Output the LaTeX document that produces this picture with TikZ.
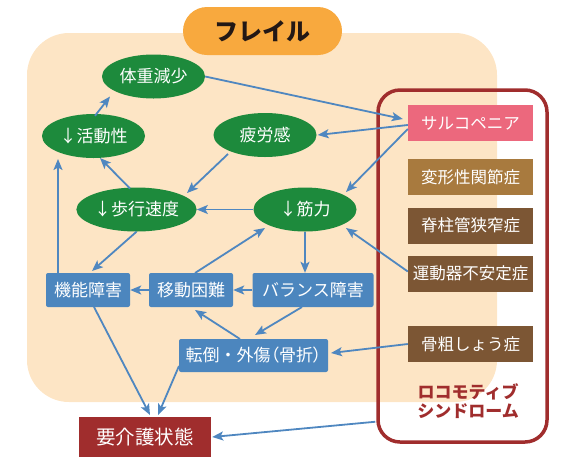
\documentclass[tikz,border=0pt]{standalone}
\usepackage{fontspec}
\setmainfont{Noto Sans CJK JP}
\newfontfamily\jpp[RawFeature=+palt]{Noto Sans CJK JP}
\usetikzlibrary{arrows.meta,calc,shapes.geometric}
\definecolor{beige}{RGB}{253,229,197}
\definecolor{frailorange}{RGB}{248,169,62}
\definecolor{egreen}{RGB}{29,138,60}
\definecolor{bblue}{RGB}{76,134,190}
\definecolor{arrblue}{RGB}{79,135,192}
\definecolor{spink}{RGB}{236,104,125}
\definecolor{lbrown}{RGB}{168,122,62}
\definecolor{dbrown}{RGB}{124,86,52}
\definecolor{dred}{RGB}{160,45,45}
\definecolor{inkblack}{RGB}{35,24,21}
\begin{document}
\begin{tikzpicture}[x=1pt,y=-1pt,
  ell/.style={ellipse, fill=egreen, text=white, minimum width=103pt, minimum height=44pt, inner sep=0pt, font=\fontsize{17}{17}\selectfont},
  bbox/.style={rectangle, rounded corners=2pt, fill=bblue, text=white, minimum height=34pt, inner sep=0pt, font=\fontsize{17}{17}\selectfont},
  lbox/.style={rectangle, text=white, minimum width=125pt, minimum height=36pt, inner sep=0pt, font=\fontsize{16.5}{16.5}\selectfont},
  arr/.style={draw=arrblue, line width=1.8pt, -{Stealth[length=11pt,width=9pt,inset=2.5pt]}}
]
\useasboundingbox (0,0) rectangle (564,467);
% background
\fill[beige, rounded corners=42pt] (27,33) rectangle (497,402);
\node[fill=frailorange, rounded corners=24pt, minimum width=159pt, minimum height=48pt, inner sep=0pt, text=inkblack, font=\fontsize{24}{24}\selectfont\bfseries] (frail) at (262.5,31) {フレイル};
% locomo frame
\node[draw=dred, line width=3.5pt, rounded corners=22pt, minimum width=169pt, minimum height=352pt, inner sep=0pt] (loco) at (462.5,266) {};
% ellipses
\node[ell] (taiju) at (153.5,76.5) {体重減少};
\node[ell] (katsudo) at (93.5,136) {↓活動性};
\node[ell] (hirou) at (265,135) {疲労感};
\node[ell] (hokou) at (136.5,209.5) {↓歩行速度};
\node[ell] (kinryoku) at (305,209.5) {↓筋力};
% blue boxes
\node[bbox, minimum width=84pt] (kinou) at (88,290) {機能障害};
\node[bbox, minimum width=84pt] (idou) at (191,290) {移動困難};
\node[bbox, minimum width=121pt] (balance) at (313,290) {バランス障害};
\node[bbox, minimum width=149pt, minimum height=33pt] (tento) at (253.5,355.5) {転倒・外傷{\jpp（骨折）}};
% care box
\node[rectangle, fill=dred, text=white, minimum width=132pt, minimum height=40pt, inner sep=0pt, font=\fontsize{19.5}{19.5}\selectfont] (yokaigo) at (145,437) {要介護状態};
% locomo boxes
\node[lbox, fill=spink] (sarco) at (470.5,123) {サルコペニア};
\node[lbox, fill=lbrown] (henkei) at (470.5,177) {変形性関節症};
\node[lbox, fill=dbrown] (sekichu) at (470.5,225.5) {脊柱管狭窄症};
\node[lbox, fill=dbrown] (undou) at (470.5,273.5) {運動器不安定症};
\node[lbox, fill=dbrown] (kotsu) at (470.5,344) {骨粗しょう症};
\node[text=dred, align=center, inner sep=0pt, font=\fontsize{17}{19.5}\selectfont\bfseries] (locolabel) at (468,401) {ロコモティブ\\シンドローム};
% arrows
\draw[arr] ($(katsudo.north)+(1.5,2)$) -- ($(taiju.center)+(-43.5,20)$);
\draw[arr] (taiju.east) -- ($(sarco.west)+(-5,-4)$);
\draw[arr] ($(sarco.west)+(0,2)$) -- ($(hirou.east)+(1,0)$);
\draw[arr] ($(sarco.west)+(0,6)$) -- ($(kinryoku.center)+(41,-17.5)$);
\draw[arr] ($(hirou.center)+(-37,19)$) -- ($(hokou.center)+(50.5,-16.5)$);
\draw[arr] (kinryoku.west) -- (hokou.east);
\draw[arr] ($(hokou.center)+(-6.5,-21)$) -- ($(katsudo.center)+(6.5,22)$);
\draw[arr] ($(kinou.center)+(-30,-17)$) -- ($(katsudo.center)+(-35.5,23)$);
\draw[arr] (hokou.south) -- ($(kinou.center)+(4,-19)$);
\draw[arr] (idou.west) -- (kinou.east);
\draw[arr] (balance.west) -- (idou.east);
\draw[arr] ($(idou.center)+(4,-17)$) -- ($(kinryoku.center)+(-40,18.5)$);
\draw[arr] (kinryoku.south) -- (kinryoku.south |- balance.north);
\draw[arr] ($(undou.west)+(0,-2)$) -- ($(kinryoku.center)+(41,18.5)$);
\draw[arr] ($(balance.center)+(-11,17)$) -- ($(tento.center)+(1.5,-20.5)$);
\draw[arr] ($(tento.center)+(-13.5,-16.5)$) -- ($(idou.center)+(4,20)$);
\draw[arr] (kotsu.west) -- ($(tento.center)+(77.5,-2.5)$);
\draw[arr] ($(kinou.center)+(6,17)$) -- ($(yokaigo.center)+(5,-22)$);
\draw[arr] ($(tento.center)+(-74.5,10.5)$) -- ($(yokaigo.center)+(13,-22)$);
\draw[arr] ($(loco.south west)+(-1,-22)$) -- ($(yokaigo.east)+(1,0)$);
\end{tikzpicture}
\end{document}
